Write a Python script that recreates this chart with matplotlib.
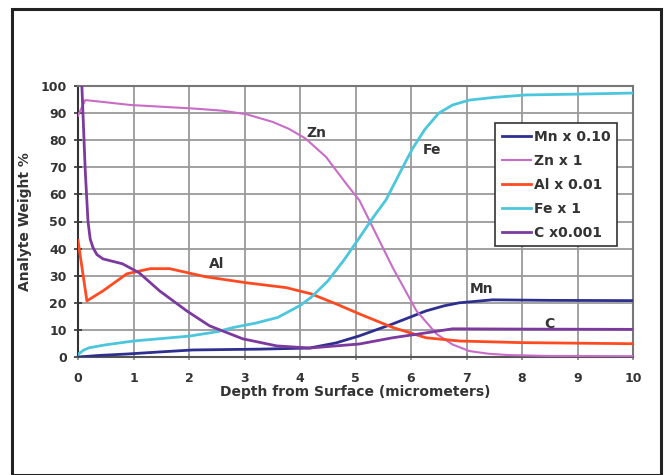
import numpy as np
import matplotlib.pyplot as plt
from matplotlib.patches import Rectangle

# depth profiles (x in micrometers, y in analyte weight %)
mn_x = [0, 0.4, 0.88, 1.5, 2.07, 3.27, 4.17, 4.65, 5.07, 5.67, 6.27, 6.6, 6.87, 7.47, 8.5, 10]
mn_y = [0, 0.6, 1.1, 1.9, 2.6, 2.9, 3.3, 5.2, 7.8, 12.2, 17.0, 18.9, 20.0, 21.1, 20.9, 20.8]

zn_x = [0, 0.13, 0.5, 0.94, 2.07, 2.6, 3.03, 3.5, 3.8, 4.1, 4.47, 4.83, 5.07, 5.67, 6.1, 6.46, 6.75,
        7.05, 7.4, 7.77, 8.45, 10]
zn_y = [89, 94.8, 94.0, 93.0, 91.7, 90.9, 89.6, 86.8, 84.2, 80.6, 73.8, 64.0, 57.8, 33.0, 17.0, 8.5, 4.6,
        2.2, 1.2, 0.7, 0.4, 0.3]

al_x = [0, 0.16, 0.45, 0.88, 1.3, 1.65, 2.3, 3.03, 3.75, 4.2, 4.65, 5.07, 5.67, 6.27, 6.87, 8.0, 10]
al_y = [43, 20.7, 24.4, 30.7, 32.6, 32.6, 29.6, 27.4, 25.6, 23.3, 19.6, 15.9, 10.9, 7.1, 5.9, 5.3, 4.9]

fe_x = [0, 0.1, 0.2, 0.5, 1.0, 1.5, 2.0, 2.5, 2.8, 3.2, 3.6, 4.0, 4.2, 4.5, 4.8, 5.07, 5.3, 5.55,
        5.8, 6.03, 6.25, 6.5, 6.75, 7.05, 7.5, 8.07, 9.0, 10]
fe_y = [1, 2.5, 3.4, 4.5, 5.9, 6.8, 7.7, 9.3, 10.9, 12.5, 14.6, 19.0, 22.0, 28.0, 36.0, 44.0, 51.0, 58.0,
        68.0, 77.0, 84.0, 90.0, 93.0, 94.8, 95.8, 96.7, 97.0, 97.4]

c_x = [0.07, 0.13, 0.18, 0.22, 0.27, 0.34, 0.45, 0.8, 1.1, 1.47, 1.96, 2.37, 2.97, 3.58, 4.17, 4.65,
       5.07, 5.67, 6.27, 6.75, 8.0, 10]
c_y = [100, 69, 50, 43.5, 40.4, 37.8, 36.2, 34.4, 31.1, 24.4, 17.0, 11.5, 6.7, 4.1, 3.3, 4.1,
       4.8, 7.1, 8.9, 10.4, 10.3, 10.2]

series = [
    ("Mn x 0.10", mn_x, mn_y, "#2e2f8f", 2.0),
    ("Zn x 1", zn_x, zn_y, "#c86cc8", 1.5),
    ("Al x 0.01", al_x, al_y, "#ff4a22", 2.0),
    ("Fe x 1", fe_x, fe_y, "#4cc6dc", 2.0),
    ("C x0.001", c_x, c_y, "#7c3a9e", 2.0),
]

# label, x, y
annotations = [("Zn", 4.3, 82.5), ("Fe", 6.38, 76.5), ("Al", 2.5, 34.5), ("Mn", 7.28, 25), ("C", 8.5, 12.3)]

fig = plt.figure(figsize=(6.66, 4.75), dpi=100)
fig.patches.append(Rectangle((12 / 666, 0.0), (661 - 12) / 666, (467 - 1) / 475,
                             transform=fig.transFigure, fill=False, edgecolor="#222222", lw=2.2))

ax = fig.add_axes([78 / 666, 1 - 357 / 475, (633 - 78) / 666, (357 - 86) / 475])

for name, x, y, col, lw in series:
    ax.plot(x, y, color=col, lw=lw, label=name, zorder=3)

for txt, x, y in annotations:
    ax.text(x, y, txt, fontsize=10, fontweight="bold", color="#333333", ha="center", va="center")

ax.set_xlim(0, 10)
ax.set_ylim(0, 100)
ax.set_xticks(np.arange(0, 11, 1))
ax.set_yticks(np.arange(0, 101, 10))
ax.grid(True, color="#9a9a9a", lw=1.3)
ax.set_axisbelow(True)
for s in ax.spines.values():
    s.set_color("#777777")
    s.set_linewidth(1.5)
ax.spines["left"].set_color("#333333")
ax.spines["bottom"].set_color("#555555")
ax.tick_params(direction="inout", length=6, width=1.2, color="#333333", labelsize=9, labelcolor="#333333")
ax.tick_params(axis="y", pad=5)
ax.tick_params(axis="x", length=5, color="#888888", pad=8)
for lab in ax.get_xticklabels() + ax.get_yticklabels():
    lab.set_fontweight("bold")

ax.set_xlabel("Depth from Surface (micrometers)", fontsize=10, fontweight="bold", color="#333333", labelpad=0)
ax.set_ylabel("Analyte Weight %", fontsize=10, fontweight="bold", color="#333333", labelpad=6)

leg = ax.legend(loc="upper left", bbox_to_anchor=(0.752, 0.865), fontsize=10, frameon=True,
                fancybox=False, edgecolor="#333333", framealpha=1, handlelength=2.1,
                handletextpad=0.15, labelspacing=0.72, borderpad=0.5, borderaxespad=0)
leg.get_frame().set_linewidth(1.2)
for t in leg.get_texts():
    t.set_fontweight("bold")
    t.set_color("#333333")

fig.savefig("out.png", dpi=100)
